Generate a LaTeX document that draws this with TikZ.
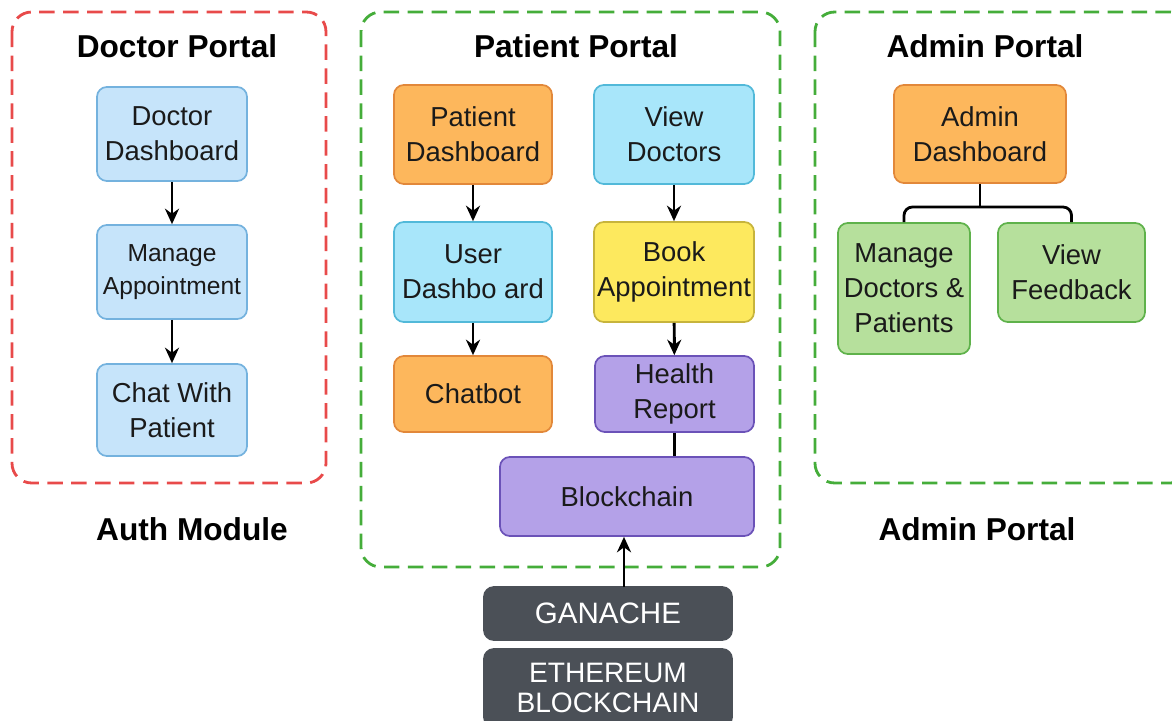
\documentclass[tikz,border=0pt]{standalone}
\usepackage{fontspec}
\setmainfont{Liberation Sans}
\usepackage{tikz}
\usetikzlibrary{positioning, arrows.meta, calc}
\definecolor{txt}{HTML}{1A1A1A}
\definecolor{redline}{HTML}{E84A4A}
\definecolor{greenline}{HTML}{45AD3A}
\definecolor{bluefill}{HTML}{C6E4FA}
\definecolor{blueline}{HTML}{74B2DE}
\definecolor{orangefill}{HTML}{FDB75C}
\definecolor{orangeline}{HTML}{E2883A}
\definecolor{cyanfill}{HTML}{A8E6FA}
\definecolor{cyanline}{HTML}{52B9D9}
\definecolor{yellowfill}{HTML}{FDE95E}
\definecolor{yellowline}{HTML}{C7B43C}
\definecolor{purplefill}{HTML}{B4A1E8}
\definecolor{purpleline}{HTML}{6B52B8}
\definecolor{greenfill}{HTML}{B6E09C}
\definecolor{greenbox}{HTML}{5FB24B}
\definecolor{darkfill}{HTML}{4B5057}
\tikzset{box/.style = {rectangle, rounded corners=7pt, draw, line width=1.2pt, align=center,
                       inner sep=1pt, text=txt, font=\fontsize{19.5}{25}\selectfont},
         doc/.style = {box, fill=bluefill, draw=blueline, minimum width=3.75cm, minimum height=2.35cm},
         pat/.style = {box, minimum width=3.95cm, minimum height=2.475cm},
         tech/.style = {box, fill=darkfill, draw=darkfill, text=white, minimum width=6.2cm},
         portal/.style = {dash pattern=on 11pt off 6pt, line width=2pt, rounded corners=14pt},
         title/.style = {text=black, font=\fontsize{22.5}{26}\selectfont\bfseries},
         arr/.style = {-{Stealth[length=11pt,width=10pt]}, line width=2.1pt},
         conn/.style = {line width=2pt}}

\begin{document}
\begin{tikzpicture}[x=0.025cm, y=-0.025cm]
    \useasboundingbox (0,0) rectangle (1172,721);

    % containers
    \draw [portal, redline]   (12,12)  rectangle (326,483);
    \draw [portal, greenline] (361,12) rectangle (780,567);
    \draw [portal, greenline] (815,12) rectangle (1190,483);

    \node [title] (doctitle) at (177,46)  {Doctor Portal};
    \node [title] (pattitle) at (576,46)  {Patient Portal};
    \node [title] (admtitle) at (985,46)  {Admin Portal};
    \node [title] (auth)     at (192,529) {Auth Module};
    \node [title] (admlabel) at (977,529) {Admin Portal};

    % doctor portal
    \node [doc] (docdash) at (172,134) {Doctor\\Dashboard};
    \node [doc, font=\fontsize{17.5}{24}\selectfont] (manappt) at (172,272) {Manage\\Appointment};
    \node [doc, minimum height=2.3cm] (chat) at (172,410) {Chat With\\Patient};

    \draw [arr] (docdash) -- (manappt);
    \draw [arr] (manappt) -- (chat);

    % patient portal
    \node [pat, fill=orangefill, draw=orangeline] (patdash) at (473,134.5) {Patient\\Dashboard};
    \node [pat, fill=cyanfill, draw=cyanline, minimum width=4cm] (viewdoc) at (674,134.5) {View\\Doctors};
    \node [pat, fill=cyanfill, draw=cyanline, minimum height=2.5cm] (userdash) at (473,272) {User\\Dashbo ard};
    \node [pat, fill=yellowfill, draw=yellowline, minimum width=4cm, minimum height=2.5cm] (bookappt) at (674,272) {Book\\Appointment};
    \node [pat, fill=orangefill, draw=orangeline, minimum height=1.9cm] (chatbot) at (473,394) {Chatbot};
    \node [pat, fill=purplefill, draw=purpleline, minimum width=3.975cm, minimum height=1.9cm] (health) at (674.5,394) {Health\\Report};
    \node [box, fill=purplefill, draw=purpleline, minimum width=6.35cm, minimum height=1.975cm] (chain) at (627,496.5) {Blockchain};

    \draw [arr] (patdash) -- (userdash);
    \draw [arr] (userdash) -- (chatbot);
    \draw [arr] (viewdoc) -- (bookappt);
    \draw [arr] (bookappt) -- (health);
    \draw [conn] (health.south) -- (health.south |- chain.north);

    % tech stack
    \node [tech, minimum height=1.325cm, font=\fontsize{21}{24}\selectfont] (ganache) at (608,613.5) {GANACHE};
    \node [tech, minimum height=1.95cm, font=\fontsize{20}{21.5}\selectfont] (eth) at (608,688) {ETHEREUM\\BLOCKCHAIN};

    \coordinate (gtop) at (624,587);
    \draw [arr] (gtop) -- (gtop |- chain.south);

    % admin portal
    \node [box, fill=orangefill, draw=orangeline, minimum width=4.3cm, minimum height=2.45cm] (admdash) at (980,134) {Admin\\Dashboard};
    \node [box, fill=greenfill, draw=greenbox, minimum width=3.3cm, minimum height=3.275cm] (mandoc) at (904,288.5) {Manage\\Doctors \&\\Patients};
    \node [box, fill=greenfill, draw=greenbox, minimum width=3.675cm, minimum height=2.475cm] (viewfb) at (1071.5,272.5) {View\\Feedback};

    \coordinate (brace) at (980,207);
    \draw [conn, rounded corners=6pt] (mandoc.north) |- (brace) -| (viewfb.north);
    \draw [conn] (admdash.south) -- (brace);
\end{tikzpicture}
\end{document}
